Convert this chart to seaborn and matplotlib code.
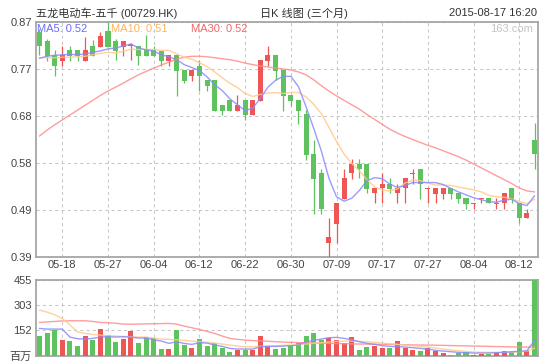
import numpy as np
import pandas as pd
import matplotlib
matplotlib.use("Agg")
import matplotlib.pyplot as plt
import seaborn as sns

# ---------------- data ----------------
dates = ["05-13", "05-14", "05-15", "05-18", "05-19", "05-20", "05-21", "05-22", "05-26", "05-27",
         "05-28", "05-29", "06-01", "06-02", "06-03", "06-04", "06-05", "06-08", "06-09", "06-10",
         "06-11", "06-12", "06-15", "06-16", "06-17", "06-18", "06-19", "06-22", "06-23", "06-24",
         "06-25", "06-26", "06-29", "06-30", "07-02", "07-03", "07-06", "07-07", "07-08", "07-09",
         "07-10", "07-13", "07-14", "07-15", "07-16", "07-17", "07-20", "07-21", "07-22", "07-23",
         "07-24", "07-27", "07-28", "07-29", "07-30", "07-31", "08-03", "08-04", "08-05", "08-06",
         "08-07", "08-10", "08-11", "08-12", "08-13", "08-17"]

tick_labels = ["05-18", "05-27", "06-04", "06-12", "06-22", "06-30",
               "07-09", "07-17", "07-27", "08-04", "08-12"]

open_ = [0.850, 0.831, 0.803, 0.791, 0.813, 0.813, 0.791, 0.821, 0.819, 0.852,
         0.831, 0.819, 0.822, 0.821, 0.813, 0.813, 0.811, 0.791, 0.803, 0.772,
         0.760, 0.781, 0.752, 0.752, 0.700, 0.711, 0.689, 0.711, 0.680, 0.709,
         0.791, 0.803, 0.772, 0.721, 0.711, 0.682, 0.600, 0.561, 0.419, 0.457,
         0.508, 0.561, 0.580, 0.580, 0.520, 0.530, 0.540, 0.520, 0.530, 0.560,
         0.570, 0.529, 0.519, 0.519, 0.530, 0.520, 0.510, 0.499, 0.509, 0.510,
         0.499, 0.500, 0.530, 0.500, 0.469, 0.630]
high = [0.855, 0.835, 0.813, 0.821, 0.820, 0.813, 0.840, 0.833, 0.850, 0.870,
        0.835, 0.831, 0.828, 0.821, 0.843, 0.821, 0.811, 0.803, 0.803, 0.772,
        0.775, 0.792, 0.752, 0.752, 0.700, 0.711, 0.721, 0.711, 0.711, 0.792,
        0.821, 0.803, 0.772, 0.721, 0.711, 0.690, 0.630, 0.570, 0.469, 0.500,
        0.570, 0.590, 0.590, 0.580, 0.530, 0.561, 0.551, 0.540, 0.551, 0.569,
        0.570, 0.530, 0.530, 0.530, 0.530, 0.520, 0.510, 0.500, 0.510, 0.510,
        0.510, 0.520, 0.530, 0.500, 0.489, 0.663]
low = [0.803, 0.791, 0.760, 0.781, 0.791, 0.791, 0.791, 0.801, 0.819, 0.819,
       0.792, 0.801, 0.792, 0.782, 0.801, 0.801, 0.781, 0.781, 0.719, 0.745,
       0.749, 0.730, 0.730, 0.689, 0.681, 0.689, 0.689, 0.670, 0.680, 0.709,
       0.781, 0.752, 0.689, 0.698, 0.662, 0.588, 0.478, 0.478, 0.390, 0.419,
       0.508, 0.549, 0.551, 0.520, 0.500, 0.500, 0.520, 0.500, 0.500, 0.539,
       0.508, 0.500, 0.500, 0.508, 0.508, 0.500, 0.489, 0.489, 0.500, 0.500,
       0.489, 0.489, 0.500, 0.459, 0.469, 0.569]
close = [0.820, 0.801, 0.781, 0.803, 0.801, 0.801, 0.813, 0.801, 0.841, 0.819,
         0.811, 0.831, 0.823, 0.801, 0.801, 0.801, 0.791, 0.803, 0.770, 0.749,
         0.772, 0.760, 0.740, 0.689, 0.689, 0.689, 0.700, 0.680, 0.711, 0.792,
         0.803, 0.770, 0.719, 0.709, 0.689, 0.598, 0.549, 0.488, 0.431, 0.500,
         0.551, 0.580, 0.569, 0.529, 0.530, 0.540, 0.529, 0.530, 0.551, 0.562,
         0.539, 0.530, 0.530, 0.530, 0.519, 0.508, 0.498, 0.500, 0.510, 0.500,
         0.500, 0.520, 0.508, 0.469, 0.479, 0.600]

ma5 = [0.796, 0.800, 0.802, 0.803, 0.804, 0.803, 0.805, 0.808, 0.811, 0.815,
       0.817, 0.821, 0.825, 0.817, 0.813, 0.811, 0.803, 0.799, 0.793, 0.783,
       0.777, 0.771, 0.758, 0.742, 0.730, 0.713, 0.701, 0.689, 0.694, 0.714,
       0.737, 0.751, 0.759, 0.759, 0.738, 0.697, 0.653, 0.607, 0.551, 0.513,
       0.504, 0.510, 0.526, 0.546, 0.552, 0.550, 0.539, 0.532, 0.536, 0.542,
       0.542, 0.542, 0.542, 0.538, 0.530, 0.523, 0.517, 0.511, 0.507, 0.503,
       0.502, 0.506, 0.508, 0.499, 0.495, 0.515]
ma10 = [0.797, 0.797, 0.797, 0.798, 0.798, 0.799, 0.800, 0.803, 0.806, 0.808,
        0.807, 0.810, 0.814, 0.814, 0.814, 0.814, 0.812, 0.812, 0.805, 0.798,
        0.794, 0.787, 0.779, 0.768, 0.756, 0.745, 0.736, 0.724, 0.718, 0.722,
        0.725, 0.726, 0.724, 0.726, 0.726, 0.717, 0.702, 0.683, 0.655, 0.626,
        0.600, 0.581, 0.566, 0.548, 0.533, 0.527, 0.525, 0.529, 0.541, 0.547,
        0.546, 0.541, 0.537, 0.537, 0.536, 0.533, 0.530, 0.527, 0.523, 0.516,
        0.513, 0.512, 0.509, 0.503, 0.499, 0.508]
ma30 = [0.637, 0.649, 0.660, 0.670, 0.680, 0.690, 0.700, 0.710, 0.720, 0.729,
        0.737, 0.745, 0.754, 0.762, 0.769, 0.776, 0.782, 0.788, 0.794, 0.798,
        0.800, 0.800, 0.799, 0.797, 0.795, 0.793, 0.790, 0.786, 0.783, 0.780,
        0.778, 0.776, 0.774, 0.772, 0.768, 0.762, 0.752, 0.740, 0.729, 0.719,
        0.710, 0.701, 0.692, 0.681, 0.671, 0.661, 0.651, 0.643, 0.636, 0.630,
        0.624, 0.618, 0.613, 0.607, 0.601, 0.595, 0.588, 0.580, 0.572, 0.564,
        0.556, 0.548, 0.540, 0.531, 0.525, 0.523]

volume = [118, 136, 154, 94, 88, 58, 118, 94, 160, 124,
          82, 102, 148, 76, 112, 104, 40, 40, 154, 64,
          46, 100, 58, 76, 46, 22, 34, 34, 34, 118,
          58, 40, 46, 64, 76, 118, 136, 94, 106, 94,
          76, 112, 34, 52, 58, 46, 46, 88, 46, 34,
          28, 46, 28, 16, 4, 16, 22, 4, 10, 10,
          22, 28, 22, 82, 28, 456]
vol_ma5 = [164, 160, 160, 160, 112, 102, 100, 104, 112, 114,
           112, 114, 112, 106, 106, 96, 88, 74, 84, 74,
           68, 78, 76, 64, 56, 44, 40, 40, 40, 54,
           56, 56, 58, 60, 64, 84, 92, 100, 108, 110,
           104, 96, 84, 74, 68, 60, 56, 54, 52, 48,
           44, 40, 32, 28, 24, 20, 18, 16, 16, 16,
           18, 20, 24, 26, 30, 92]
vol_ma10 = [274, 262, 246, 224, 185, 143, 134, 128, 124, 120,
            118, 116, 114, 112, 112, 106, 100, 98, 95, 92,
            88, 84, 80, 76, 70, 64, 58, 54, 54, 56,
            58, 60, 62, 64, 66, 70, 74, 78, 82, 86,
            88, 88, 86, 84, 80, 76, 72, 68, 64, 60,
            56, 52, 46, 40, 34, 30, 26, 22, 20, 20,
            20, 20, 22, 24, 28, 44]
vol_ma30 = [200, 203, 206, 209, 210, 210, 210, 206, 200, 198,
            195, 190, 189, 190, 191, 192, 193, 194, 190, 178,
            168, 158, 146, 134, 118, 104, 98, 94, 91, 89,
            87, 84, 82, 80, 79, 77, 76, 75, 74, 73,
            72, 71, 70, 70, 69, 68, 68, 67, 66, 65,
            64, 64, 63, 62, 61, 60, 59, 58, 57, 56,
            55, 54, 53, 52, 52, 52]

price_ticks = [0.39, 0.486, 0.582, 0.678, 0.774, 0.87]
vol_ticks = [0, 151.67, 303.33, 455]
vol_tick_labels = ["百万", "152", "303", "455"]

title_left = "五龙电动车-五千 (00729.HK)"
title_mid = "日K 线图 (三个月)"
title_right = "2015-08-17 16:20"

# ---------------- style ----------------
sns.set_style("white")
plt.rcParams["font.family"] = ["Liberation Sans", "Noto Sans CJK SC", "DejaVu Sans"]
plt.rcParams["lines.scale_dashes"] = True

RED = "#ee5555"
GREEN = "#5ec25e"
C_MA5 = "#8a8aff"
C_MA10 = "#ffc98a"
C_MA30 = "#ff8c8c"
GRID = "#c8c8c8"
FRAME = "#a6a6a6"
TXT = "#444444"

df = pd.DataFrame({
    "idx": np.arange(len(dates)),
    "date": dates,
    "open": open_, "high": high, "low": low, "close": close,
    "ma5": ma5, "ma10": ma10, "ma30": ma30,
    "vol": volume, "vma5": vol_ma5, "vma10": vol_ma10, "vma30": vol_ma30,
})
df["dir"] = np.where(df["close"] >= df["open"], "up", "down")
palette = {"up": RED, "down": GREEN}
cols = [palette[d] for d in df["dir"]]
bar_palette = dict(zip(dates, cols))
tick_pos = [dates.index(d) for d in tick_labels]

W, H = 551, 363
fig = plt.figure(figsize=(W / 100, H / 100), dpi=100)
fig.patch.set_facecolor("white")
L, R = 36, 538
axm = fig.add_axes([L / W, (H - 257) / H, (R - L) / W, (257 - 22) / H])
axv = fig.add_axes([L / W, (H - 355.7) / H, (R - L) / W, (355.7 - 280) / H])

# ---------------- candles ----------------
body_w = 0.66
bottoms = np.minimum(df["open"], df["close"])
heights = np.maximum(np.abs(df["close"] - df["open"]), 0.0022)
axm.vlines(df["idx"], df["low"], df["high"], colors=cols, linewidth=0.9, zorder=3)
axm.bar(df["idx"], heights, bottom=bottoms, width=body_w, color=cols,
        linewidth=0, zorder=3)

for col, c in [("ma30", C_MA30), ("ma10", C_MA10), ("ma5", C_MA5)]:
    sns.lineplot(data=df, x="idx", y=col, color=c, linewidth=1.0, alpha=0.85,
                 ax=axm, legend=False, zorder=4)

# ---------------- volume ----------------
sns.barplot(data=df, x="date", y="vol", hue="date", palette=bar_palette,
            order=dates, hue_order=dates, dodge=False, width=body_w, saturation=1,
            errorbar=None, legend=False, linewidth=0, ax=axv, zorder=3)
for col, c in [("vma30", C_MA30), ("vma10", C_MA10), ("vma5", C_MA5)]:
    sns.lineplot(data=df, x="idx", y=col, color=c, linewidth=1.0, alpha=0.85,
                 ax=axv, legend=False, zorder=4)

# ---------------- axes formatting ----------------
xlim = (-0.45, len(dates) - 0.55)
for ax in (axm, axv):
    ax.set_xlim(*xlim)
    ax.set_xlabel("")
    ax.set_ylabel("")
    ax.set_facecolor("white")
    ax.set_xticks(tick_pos)
    ax.grid(True, color=GRID, linestyle=(0, (3, 3)), linewidth=0.75, zorder=0)
    ax.set_axisbelow(True)
    for s in ax.spines.values():
        s.set_color(FRAME)
        s.set_linewidth(1.3)
        s.set_visible(True)
    ax.tick_params(length=0, colors=TXT, labelsize=8, pad=3)

axm.set_ylim(price_ticks[0], price_ticks[-1])
axm.set_yticks(price_ticks)
axm.set_yticklabels([f"{v:.2f}" for v in price_ticks])
axm.set_xticklabels(tick_labels)
axm.tick_params(axis="x", pad=2.5)

axv.set_ylim(vol_ticks[0], vol_ticks[-1])
axv.set_yticks(vol_ticks)
axv.set_yticklabels(vol_tick_labels)
axv.set_xticklabels([])

# ---------------- texts ----------------
def px(x, y):
    return x / W, 1 - y / H

fig.text(*px(36, 13), title_left, ha="left", va="center", fontsize=8, color="#333333")
fig.text(*px(304, 13), title_mid, ha="center", va="center", fontsize=8, color="#333333")
fig.text(*px(537, 13), title_right, ha="right", va="center", fontsize=8, color="#333333")

fig.text(*px(37, 29), f"MA5: {ma5[-1]:.2f}", ha="left", va="center", fontsize=8, color="#6c6cff")
fig.text(*px(111, 29), f"MA10: {ma10[-1]:.2f}", ha="left", va="center", fontsize=8, color="#ffb45a")
fig.text(*px(191, 29), f"MA30: {ma30[-1]:.2f}", ha="left", va="center", fontsize=8, color="#f06868")
fig.text(*px(533, 29), "163.com", ha="right", va="center", fontsize=8, color="#c4c4c4")

fig.savefig("out.png", dpi=100, facecolor="white")
